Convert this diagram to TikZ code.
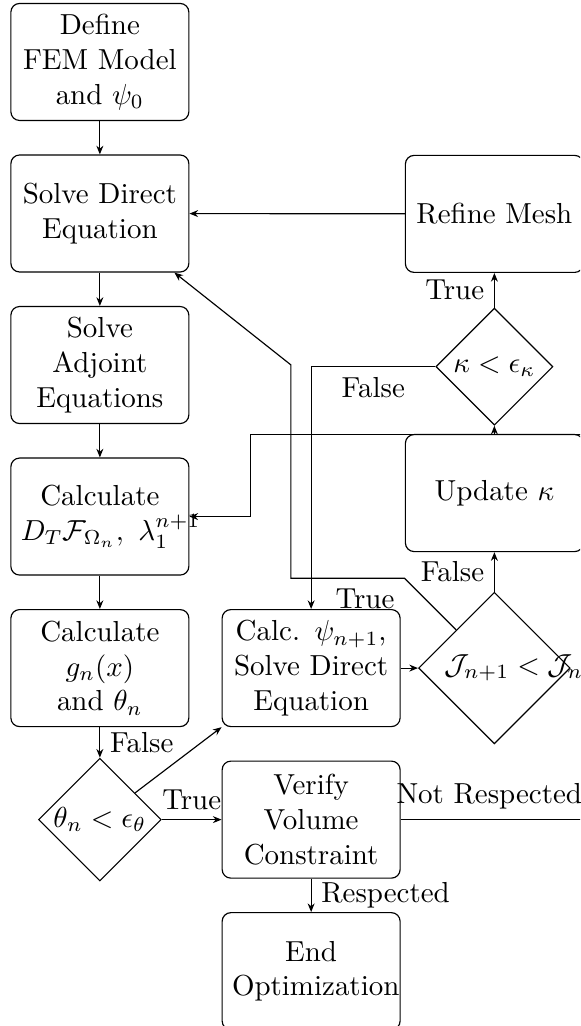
\documentclass[tikz,border=0pt]{standalone}
\usepackage{amsmath}
\usetikzlibrary{positioning,arrows.meta,shapes.geometric,calc}
\tikzset{
  pbox/.style={draw,rounded corners=3pt,
               minimum width=2.16cm,minimum height=1.42cm,
               text width=1.92cm,align=center},
  dbox/.style={draw,diamond,aspect=1,inner sep=0pt,align=center},
  arr/.style={-{Stealth[length=3pt,width=2.4pt]}},
}
\begin{document}
\begin{tikzpicture}[node distance=0.405cm]
    \useasboundingbox (-1.212,0.752) rectangle (5.828,-11.70);
    \clip (-1.212,0.752) rectangle (5.828,-11.70);
    % left column
    \node[pbox] (define) at (0,0) {Define\\FEM Model\\and $\psi_0$};
    \node[pbox,below=of define] (solve) {Solve Direct\\Equation};
    \node[pbox,below=of solve] (adjoint) {Solve\\Adjoint\\Equations};
    \node[pbox,below=of adjoint] (calcD) {Calculate\\$D_T\mathcal{F}_{\Omega_n},\ \lambda_1^{n+1}$};
    \node[pbox,below=of calcD] (calcg) {Calculate\\$g_n(x)$\\and $\theta_n$};
    \node[dbox,minimum size=1.49cm,below=0.37cm of calcg] (theta) {$\theta_n<\epsilon_\theta$};
    % middle column
    \node[pbox,right=0.39cm of calcg] (calcpsi) {Calc. $\psi_{n+1}$,\\Solve Direct\\Equation};
    \node[pbox,below=of calcpsi] (verify) {Verify\\Volume\\Constraint};
    \node[pbox,below=of verify] (endopt) {End\\Optimization};
    % right column
    \node[dbox,minimum size=1.84cm,text width=1.21cm,right=0.21cm of calcpsi] (J) {\mbox{$\mathcal{J}_{n+1}<\mathcal{J}_n$}};
    \node[pbox,above=0.48cm of J] (update) {Update $\kappa$};
    \node[dbox,minimum size=1.42cm,above=0.1cm of update] (kappa) {$\kappa<\epsilon_\kappa$};
    \node[pbox,above=0.42cm of kappa] (refine) {Refine Mesh};
    % connectors
    \draw[arr] (define) -- (solve);
    \draw[arr] (solve) -- (adjoint);
    \draw[arr] (adjoint) -- (calcD);
    \draw[arr] (calcD) -- (calcg);
    \draw[arr] (calcg) -- node[right]{False} (theta);
    \draw[arr] (theta) -- node[above]{True} (verify);
    \draw[arr] (theta) -- (calcpsi.south west);
    \draw[arr] (verify) -- node[right]{Respected} (endopt);
    \draw[arr] (calcpsi) -- (J);
    \draw[arr] (J) -- node[left]{False} (update);
    \draw[arr] (update) -- (kappa);
    \draw[arr] (kappa) -- node[left]{True} (refine);
    \draw[arr] (refine) -- (solve);
    \draw[arr] (kappa) -| node[below,pos=0.25]{False} (calcpsi);
    \draw[arr] (J) -- ++(-1.09,1.09) node[below left]{True} -- ++(-1.38,0) -- ++(0,2.59) -- (solve);
    \draw[arr] (verify.east) -- node[above,pos=0.43]{Not Respected} ++(2.5,0)
        |- ($(calcD.east)+(0.74,1.0)$) |- (calcD.east);
\end{tikzpicture}
\end{document}
